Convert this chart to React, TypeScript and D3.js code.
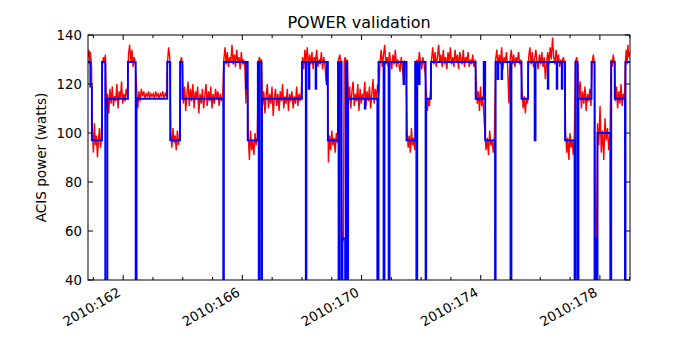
import React, { useRef, useEffect } from 'react';
import * as d3 from 'd3';

const xMajorDays = [162, 166, 170, 174, 178];
const xMinorDays = d3.range(161, 180, 1);
const yTicks = [40, 60, 80, 100, 120, 140];
const xDomain = [160.82, 179.01];
const yDomain = [40, 140];

// model prediction (blue): [day of year, watts], value holds until the next step
const modelSteps = [
  [160.82, 129], [160.9, 119], [160.95, 97], [161.29, 129], [161.4, 0], [161.47, 114],
  [162.16, 129], [162.42, 0], [162.45, 114], [163.48, 129], [163.58, 97], [163.91, 129],
  [163.99, 114], [165.36, 0], [165.38, 129], [166.12, 118], [166.14, 129], [166.18, 97],
  [166.52, 129], [166.55, 0], [166.57, 129], [166.64, 0], [166.66, 114], [168.0, 129],
  [168.13, 0], [168.15, 129], [168.23, 118], [168.25, 129], [168.46, 118], [168.48, 129],
  [168.83, 120], [168.85, 129], [168.87, 97], [169.21, 129], [169.23, 0], [169.26, 129],
  [169.33, 0], [169.36, 57], [169.45, 0], [169.47, 129], [169.52, 0], [169.55, 114],
  [170.11, 110], [170.13, 114], [170.53, 0], [170.57, 129], [170.74, 0], [170.77, 129],
  [170.91, 0], [170.94, 129], [171.41, 120], [171.43, 129], [171.51, 97], [171.8, 129],
  [171.84, 0], [171.87, 129], [171.93, 120], [171.95, 129], [172.15, 0], [172.17, 114],
  [172.33, 129], [173.83, 114], [174.1, 129], [174.15, 97], [174.48, 0], [174.5, 129],
  [174.57, 122], [174.59, 129], [174.7, 122], [174.72, 129], [175.0, 0], [175.03, 129],
  [175.37, 114], [175.59, 129], [175.81, 97], [175.84, 129], [176.25, 118], [176.27, 129],
  [176.55, 118], [176.57, 129], [176.72, 118], [176.74, 129], [176.83, 97], [177.15, 0],
  [177.18, 129], [177.25, 0], [177.28, 114], [177.72, 129], [177.82, 0], [177.84, 57],
  [177.89, 0], [177.92, 100], [178.35, 0], [178.38, 129], [178.5, 114], [178.84, 0],
  [178.86, 129], [179.01, 129],
];

// telemetry (red): [start day, end day, samples spread evenly over the span]
const telemSegments = [
  [160.82, 160.95, [131, 134, 128, 133, 130, 127]],
  [160.95, 161.29, [101, 92, 104, 95, 99, 90, 97, 102, 94, 98]],
  [161.29, 161.42, [128, 131, 129, 132]],
  [161.42, 162.16, [110, 116, 108, 118, 112, 119, 111, 115, 113, 120, 110, 117, 114, 121, 112, 116, 113, 118, 115]],
  [162.16, 162.43, [132, 136, 129, 134, 127, 131, 128]],
  [162.43, 163.47, [119, 110, 117, 113, 118, 115, 117, 114, 116, 115, 117, 114, 116, 115, 116, 114, 117, 115, 116, 114, 116, 115, 117, 114, 116, 115]],
  [163.47, 163.58, [129, 135, 131]],
  [163.58, 163.91, [100, 94, 102, 96, 99, 93, 101, 95, 98]],
  [163.91, 164.0, [129, 131, 128]],
  [164.0, 165.36, [112, 119, 109, 116, 121, 111, 118, 113, 120, 110, 117, 114, 119, 108, 116, 112, 118, 110, 115, 120, 111, 117, 113, 119, 110, 116, 112, 118, 114, 117, 111, 116, 113, 115]],
  [165.36, 166.18, [130, 135, 128, 133, 127, 131, 129, 136, 128, 132, 127, 134, 129, 131, 126, 133, 128, 130, 127, 112, 129]],
  [166.18, 166.52, [99, 89, 101, 93, 97, 91, 100, 95, 98]],
  [166.52, 166.66, [128, 131, 129, 130]],
  [166.66, 168.0, [111, 117, 108, 115, 120, 110, 116, 112, 119, 107, 114, 118, 111, 116, 109, 117, 113, 120, 110, 115, 112, 118, 109, 116, 113, 117, 110, 115, 112, 119, 111, 116, 113, 117]],
  [168.0, 168.87, [131, 126, 134, 129, 135, 127, 132, 128, 133, 126, 131, 129, 134, 127, 130, 128, 133, 126, 131, 128, 121, 129]],
  [168.87, 169.21, [88, 99, 93, 101, 95, 98, 92, 100, 96]],
  [169.21, 169.33, [130, 132, 129]],
  [169.33, 169.4, [58, 54, 60, 56]],
  [169.4, 169.54, [129, 131, 128, 130]],
  [169.54, 170.6, [113, 119, 110, 117, 121, 111, 116, 113, 120, 109, 118, 112, 116, 114, 121, 111, 117, 113, 119, 110, 116, 122, 112, 118, 114, 120, 116]],
  [170.6, 171.51, [129, 134, 127, 132, 136, 128, 131, 127, 133, 129, 126, 132, 128, 134, 127, 130, 128, 125, 131, 127, 121, 129, 128]],
  [171.51, 171.84, [101, 94, 99, 92, 102, 95, 98, 93, 100]],
  [171.84, 172.16, [130, 127, 133, 129, 126, 131, 128, 124]],
  [172.16, 172.33, [116, 109, 114, 111, 117]],
  [172.33, 173.83, [130, 135, 128, 133, 127, 131, 136, 129, 132, 127, 134, 128, 131, 126, 133, 129, 135, 128, 131, 127, 134, 129, 132, 126, 133, 130, 128, 134, 127, 131, 129, 133, 127, 130, 128, 132, 127, 130]],
  [173.83, 174.12, [121, 112, 117, 109, 119, 111, 115, 108]],
  [174.12, 174.48, [100, 93, 98, 91, 101, 95, 97, 92, 99]],
  [174.48, 175.37, [130, 134, 127, 132, 128, 135, 126, 131, 129, 133, 127, 112, 130, 134, 128, 132, 127, 131, 129, 133, 128, 130]],
  [175.37, 175.59, [117, 110, 115, 108, 114, 112]],
  [175.59, 176.83, [131, 135, 128, 133, 127, 130, 134, 129, 126, 132, 128, 133, 127, 131, 122, 129, 133, 128, 135, 130, 139, 131, 128, 134, 129, 132, 127, 130, 128, 131, 129]],
  [176.83, 177.16, [101, 92, 98, 89, 100, 94, 97, 91, 99]],
  [177.16, 177.28, [129, 131, 128]],
  [177.28, 177.72, [114, 121, 110, 117, 112, 119, 109, 116, 113, 118, 111]],
  [177.72, 177.84, [129, 132, 128]],
  [177.84, 177.9, [62, 54, 59]],
  [177.9, 178.36, [104, 95, 111, 92, 101, 89, 106, 97, 102, 93, 99]],
  [178.36, 178.5, [130, 127, 132, 129]],
  [178.5, 178.84, [113, 119, 110, 117, 112, 120, 111, 116, 114]],
  [178.84, 179.01, [129, 134, 128, 136, 131, 133]],
];

function PowerChart({ width = 700, height = 350 }) {
  const svgRef = useRef(null);

  useEffect(() => {
    const svg = d3.select(svgRef.current);
    svg.selectAll('*').remove();

    const margin = { top: 35, right: 70, bottom: 70, left: 88 };
    const innerWidth = width - margin.left - margin.right;
    const innerHeight = height - margin.top - margin.bottom;
    const font = 'DejaVu Sans, sans-serif';

    const x = d3.scaleLinear().domain(xDomain).range([0, innerWidth]);
    const y = d3.scaleLinear().domain(yDomain).range([innerHeight, 0]);

    svg.append('rect').attr('width', width).attr('height', height).attr('fill', '#fff');

    svg.append('defs').append('clipPath').attr('id', 'plot-clip')
      .append('rect').attr('width', innerWidth).attr('height', innerHeight);

    const g = svg.append('g').attr('transform', `translate(${margin.left},${margin.top})`);

    const telem = telemSegments.flatMap(([start, end, vals]) =>
      vals.map((v, i) => [start + ((end - start) * (i + 0.5)) / vals.length, v])
    );

    const plot = g.append('g').attr('clip-path', 'url(#plot-clip)');

    plot.append('path')
      .datum(telem)
      .attr('fill', 'none')
      .attr('stroke', '#ff0000')
      .attr('stroke-width', 1.4)
      .attr('d', d3.line().x(d => x(d[0])).y(d => y(d[1])));

    plot.append('path')
      .datum(modelSteps)
      .attr('fill', 'none')
      .attr('stroke', '#0000ff')
      .attr('stroke-width', 1.9)
      .attr('d', d3.line().x(d => x(d[0])).y(d => y(d[1])).curve(d3.curveStepAfter));

    // frame
    g.append('rect')
      .attr('width', innerWidth)
      .attr('height', innerHeight)
      .attr('fill', 'none')
      .attr('stroke', '#000')
      .attr('stroke-width', 1);

    // inward ticks, bottom and top
    const tickG = g.append('g').attr('stroke', '#000').attr('stroke-width', 1);
    xMinorDays.filter(d => d > xDomain[0] && d < xDomain[1]).forEach(d => {
      const len = xMajorDays.includes(d) ? 5 : 3;
      tickG.append('line').attr('x1', x(d)).attr('x2', x(d)).attr('y1', innerHeight).attr('y2', innerHeight - len);
      tickG.append('line').attr('x1', x(d)).attr('x2', x(d)).attr('y1', 0).attr('y2', len);
    });
    yTicks.forEach(v => {
      tickG.append('line').attr('x1', 0).attr('x2', 5).attr('y1', y(v)).attr('y2', y(v));
      tickG.append('line').attr('x1', innerWidth).attr('x2', innerWidth - 5).attr('y1', y(v)).attr('y2', y(v));
    });

    g.selectAll('.ylab')
      .data(yTicks)
      .enter()
      .append('text')
      .attr('x', -6)
      .attr('y', d => y(d))
      .attr('dy', '0.36em')
      .attr('text-anchor', 'end')
      .attr('font-family', font)
      .attr('font-size', 13.3)
      .text(d => d);

    g.selectAll('.xlab')
      .data(xMajorDays)
      .enter()
      .append('text')
      .attr('transform', d => `translate(${x(d) - 1.5},${innerHeight + 15}) rotate(-30)`)
      .attr('text-anchor', 'end')
      .attr('font-family', font)
      .attr('font-size', 13.3)
      .text(d => `2010:${d}`);

    svg.append('text')
      .attr('x', margin.left + innerWidth / 2)
      .attr('y', 28)
      .attr('text-anchor', 'middle')
      .attr('font-family', font)
      .attr('font-size', 16)
      .text('POWER validation');

    svg.append('text')
      .attr('transform', `translate(46,${margin.top + innerHeight / 2}) rotate(-90)`)
      .attr('text-anchor', 'middle')
      .attr('font-family', font)
      .attr('font-size', 13.6)
      .text('ACIS power (watts)');
  }, [width, height]);

  return (
    <svg
      ref={svgRef}
      width={width}
      height={height}
      style={{ position: 'absolute', left: 0, top: 0, display: 'block' }}
    />
  );
}

export default function App() {
  return <PowerChart />;
}
